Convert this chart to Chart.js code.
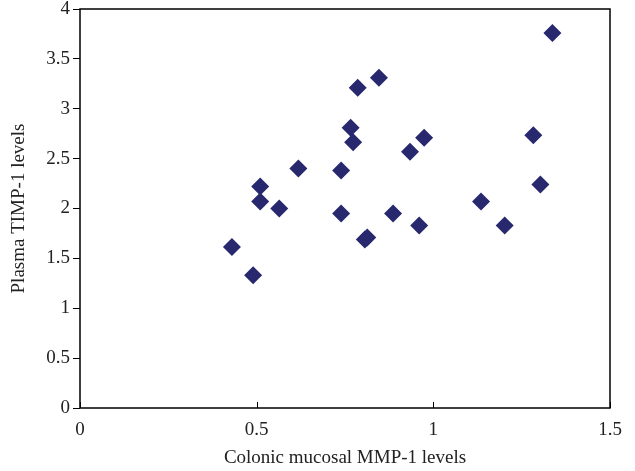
<!DOCTYPE html>
<html>
<head>
<meta charset="utf-8">
<script src="https://cdn.jsdelivr.net/npm/chart.js@4.4.0/dist/chart.umd.min.js"></script>
<style>
    html, body { margin: 0; padding: 0; background: #fff; }
    #wrap { width: 635px; height: 471px; }
</style>
</head>
<body>
<div id="wrap"><canvas id="scatterChart"></canvas></div>
<script>
// Valores
const mmp1Levels = [0.43, 0.49, 0.51, 0.51, 0.564, 0.618, 0.739, 0.739, 0.766, 0.773, 0.786, 0.846,
    0.806, 0.813, 0.886, 0.934, 0.96, 0.974, 1.135, 1.202, 1.283, 1.303, 1.337];
const timp1Levels = [1.615, 1.33, 2.22, 2.07, 2.0, 2.4, 2.38, 1.95, 2.81, 2.665, 3.21, 3.31,
    1.69, 1.71, 1.95, 2.57, 1.83, 2.71, 2.07, 1.83, 2.735, 2.24, 3.76];
const xTicks = [0, 0.5, 1, 1.5];
const yTicks = [0, 0.5, 1, 1.5, 2, 2.5, 3, 3.5, 4];

const points = mmp1Levels.map((x, i) => ({ x: x, y: timp1Levels[i] }));
const serif = "'Liberation Serif', 'DejaVu Serif', serif";

// Marco del área y marcas hacia dentro en el eje x
const framePlugin = {
    id: 'frame',
    afterDraw(chart) {
        const { ctx, chartArea } = chart;
        const xScale = chart.scales.x;
        ctx.save();
        ctx.strokeStyle = '#000';
        ctx.lineWidth = 1.5;
        ctx.strokeRect(chartArea.left, chartArea.top, chartArea.right - chartArea.left, chartArea.bottom - chartArea.top);
        ctx.lineWidth = 1;
        xTicks.forEach(v => {
            const px = Math.round(xScale.getPixelForValue(v)) + 0.5;
            ctx.beginPath();
            ctx.moveTo(px, chartArea.bottom);
            ctx.lineTo(px, chartArea.bottom - 6);
            ctx.stroke();
        });
        ctx.restore();
    }
};

const ctx = document.getElementById('scatterChart').getContext('2d');
new Chart(ctx, {
    type: 'scatter',
    data: {
        datasets: [{
            label: 'MMP-1 vs TIMP-1',
            data: points,
            backgroundColor: '#27286e',
            borderColor: '#27286e',
            borderWidth: 0,
            pointStyle: 'rectRot',
            pointRadius: 9,
            pointHoverRadius: 9
        }]
    },
    options: {
        responsive: true,
        maintainAspectRatio: false,
        animation: false,
        layout: { padding: { top: 9, right: 25, left: 0, bottom: 0 } },
        plugins: {
            legend: { display: false },
            tooltip: { enabled: false }
        },
        scales: {
            x: {
                type: 'linear',
                min: 0,
                max: 1.5,
                afterBuildTicks: scale => { scale.ticks = xTicks.map(v => ({ value: v })); },
                afterFit: scale => { scale.height = 63; scale.paddingLeft = 0; scale.paddingRight = 0; },
                border: { display: false },
                grid: { drawOnChartArea: false, drawTicks: false, display: false },
                ticks: {
                    padding: 11,
                    color: '#222',
                    font: { family: serif, size: 19 },
                    maxRotation: 0,
                    callback: v => String(v)
                },
                title: {
                    display: true,
                    text: 'Colonic mucosal MMP-1 levels',
                    color: '#222',
                    font: { family: serif, size: 19 },
                    padding: { top: 2, bottom: 2 }
                }
            },
            y: {
                type: 'linear',
                min: 0,
                max: 4,
                afterBuildTicks: scale => { scale.ticks = yTicks.map(v => ({ value: v })); },
                afterFit: scale => { scale.width = 80; scale.paddingTop = 0; scale.paddingBottom = 0; },
                border: { display: false },
                grid: { drawOnChartArea: false, drawTicks: true, tickLength: 7, tickColor: '#000' },
                ticks: {
                    padding: 3,
                    color: '#222',
                    font: { family: serif, size: 19 },
                    callback: v => String(v)
                },
                title: {
                    display: true,
                    text: 'Plasma TIMP-1 levels',
                    color: '#222',
                    font: { family: serif, size: 19 },
                    padding: { top: 8, bottom: 0 }
                }
            }
        }
    },
    plugins: [framePlugin]
});
</script>
</body>
</html>
